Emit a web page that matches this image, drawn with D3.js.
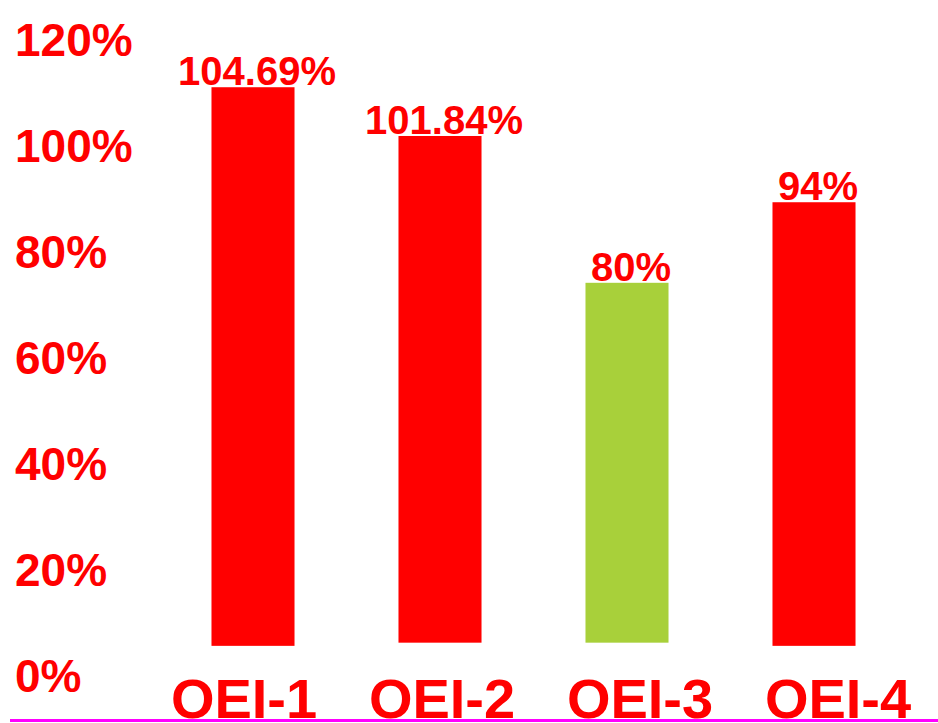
<!DOCTYPE html>
<html>
<head>
<meta charset="utf-8">
<script src="https://cdn.jsdelivr.net/npm/d3@7"></script>
<style>
  body { margin: 0; background: #fff; }
  svg text { font-family: "Liberation Sans", Arial, sans-serif; font-weight: bold; fill: #ff0000; }
</style>
</head>
<body>
<svg></svg>
<script>
const width = 938;
const height = 723;

// data
const categories = ["OEI-1", "OEI-2", "OEI-3", "OEI-4"];
const valueLabels = ["104.69%", "101.84%", "80%", "94%"];
// bar extents in axis units (bars as drawn don't follow their labels exactly)
const barTop = [110.9, 101.7, 74.0, 89.2];
const barBase = [5.5, 6.1, 6.1, 5.5];
const barColors = ["#ff0000", "#ff0000", "#a8d03a", "#ff0000"];
const yTicks = [0, 20, 40, 60, 80, 100, 120];

const svg = d3.select("svg")
    .attr("width", width)
    .attr("height", height);

const y = d3.scaleLinear()
    .domain([0, 120])
    .range([675, 39]);

const x = d3.scaleBand()
    .domain(categories)
    .range([159.5, 907.5])
    .paddingInner(0.556)
    .paddingOuter(0.278);

const xLabel = d3.scalePoint()
    .domain(categories)
    .range([243.5, 837.5]);

// y axis labels, left aligned
const yAxis = svg.append("g")
    .attr("transform", "translate(15,0)")
    .call(d3.axisLeft(y).tickValues(yTicks).tickSize(0).tickFormat(d => d + "%"));
yAxis.select(".domain").remove();
yAxis.selectAll("text")
    .attr("x", 0)
    .attr("dy", "0.35em")
    .attr("text-anchor", "start")
    .style("font-size", "46px")
    .attr("fill", "#ff0000");

const bars = categories.map((c, i) => ({
    name: c, top: barTop[i], base: barBase[i], color: barColors[i], label: valueLabels[i]
}));

svg.selectAll(".bar")
    .data(bars)
    .enter().append("rect")
    .attr("class", "bar")
    .attr("x", d => x(d.name))
    .attr("width", x.bandwidth())
    .attr("y", d => y(d.top))
    .attr("height", d => y(d.base) - y(d.top))
    .attr("fill", d => d.color);

svg.selectAll(".value")
    .data(bars)
    .enter().append("text")
    .attr("class", "value")
    .attr("x", d => x(d.name) + x.bandwidth() / 2 + 4)
    .attr("y", d => y(d.top) - 2)
    .attr("text-anchor", "middle")
    .style("font-size", "40px")
    .text(d => d.label);

// category labels
const xAxis = svg.append("g")
    .attr("transform", "translate(0,718)")
    .call(d3.axisBottom(xLabel).tickSize(0).tickPadding(0));
xAxis.select(".domain").remove();
xAxis.selectAll("text")
    .attr("y", 0)
    .attr("dy", 0)
    .style("font-size", "56px")
    .attr("fill", "#ff0000");

// magenta base line
svg.append("line")
    .attr("x1", 10)
    .attr("x2", width)
    .attr("y1", 720.5)
    .attr("y2", 720.5)
    .attr("stroke", "#ff00ff")
    .attr("stroke-width", 3);
</script>
</body>
</html>
